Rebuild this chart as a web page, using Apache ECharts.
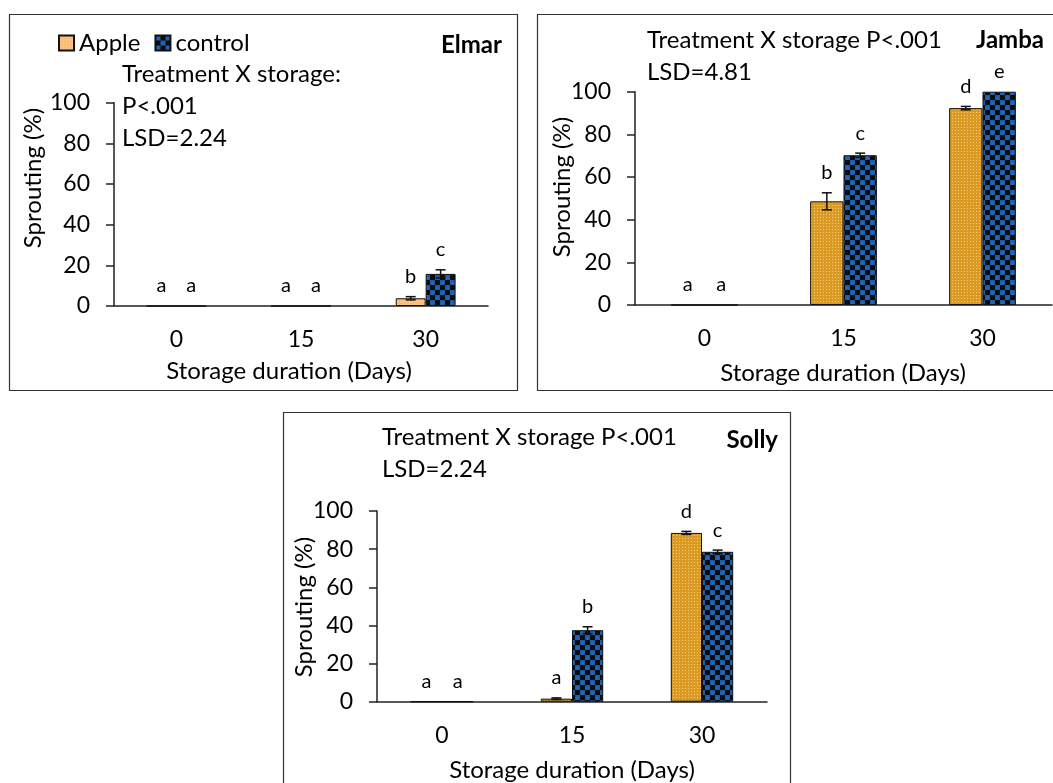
<!DOCTYPE html>
<html>
<head>
<meta charset="utf-8">
<script src="https://cdn.jsdelivr.net/npm/echarts@6/dist/echarts.min.js"></script>
<style>
  html, body { margin: 0; background: #fff; }
  #chart { width: 1053px; height: 783px; }
</style>
</head>
<body>
<div id="chart"></div>
<script>
  var categories = ['0', '15', '30'];
  var yMin = 0, yMax = 100, yStep = 20;

  // Elmar
  var elmarApple = [0, 0, 3.8];
  var elmarAppleErr = [0, 0, 0.8];
  var elmarAppleLetters = ['a', 'a', 'b'];
  var elmarControl = [0, 0, 15.8];
  var elmarControlErr = [0, 0, 2];
  var elmarControlLetters = ['a', 'a', 'c'];

  // Jamba
  var jambaApple = [0, 48.6, 92.3];
  var jambaAppleErr = [0, 4, 0.8];
  var jambaAppleLetters = ['a', 'b', 'd'];
  var jambaControl = [0, 70.2, 100];
  var jambaControlErr = [0, 1, 0];
  var jambaControlLetters = ['a', 'c', 'e'];

  // Solly
  var sollyApple = [0, 1.6, 88.5];
  var sollyAppleErr = [0, 0.4, 0.8];
  var sollyAppleLetters = ['a', 'a', 'd'];
  var sollyControl = [0, 37.5, 78.6];
  var sollyControlErr = [0, 1.8, 0.9];
  var sollyControlLetters = ['a', 'b', 'c'];

  var FONT = 'Lato';

  function dotPattern(base, dot) {
    var c = document.createElement('canvas');
    c.width = 3; c.height = 3;
    var ctx = c.getContext('2d');
    ctx.fillStyle = base;
    ctx.fillRect(0, 0, 3, 3);
    ctx.fillStyle = dot;
    ctx.fillRect(1, 1, 1, 1);
    return { image: c, repeat: 'repeat' };
  }

  function checkPattern() {
    var c = document.createElement('canvas');
    c.width = 10; c.height = 10;
    var ctx = c.getContext('2d');
    ctx.fillStyle = '#1d5cab';
    ctx.fillRect(0, 0, 10, 10);
    ctx.fillStyle = '#0d0d0d';
    ctx.fillRect(5, 0, 5, 5);
    ctx.fillRect(0, 5, 5, 5);
    ctx.fillStyle = '#2466b8';
    ctx.beginPath(); ctx.arc(2.5, 3, 1.8, 0, Math.PI * 2); ctx.fill();
    ctx.beginPath(); ctx.arc(7.5, 8, 1.8, 0, Math.PI * 2); ctx.fill();
    return { image: c, repeat: 'repeat' };
  }

  var appleLight = dotPattern('#f8bd78', '#fcd8a8');
  var appleDark = dotPattern('#db9a24', '#f4cb78');
  var control = checkPattern();

  var chart = echarts.init(document.getElementById('chart'));

  function barSeries(g, name, values, color) {
    return {
      name: name, type: 'bar', xAxisIndex: g, yAxisIndex: g,
      data: values, barWidth: '24%', barGap: '0%',
      itemStyle: { color: color, borderColor: '#111', borderWidth: 1 }
    };
  }

  // error bars and significance letters above each bar
  function errSeries(g, values, errs, letters, side) {
    return {
      type: 'custom', xAxisIndex: g, yAxisIndex: g, z: 10, silent: true,
      data: values.map(function (v, i) { return [i, v, errs[i]]; }),
      renderItem: function (params, api) {
        var i = api.value(0), m = api.value(1), e = api.value(2);
        var band = api.size([1, 0])[0];
        var cx = api.coord([i, 0])[0] + side * band * 0.12;
        var top = api.coord([i, m + e])[1];
        var bot = api.coord([i, m - e])[1];
        var st = { stroke: '#111', lineWidth: 1.5 };
        var kids = [];
        if (e > 0) {
          kids.push({ type: 'line', shape: { x1: cx, y1: top, x2: cx, y2: bot }, style: st });
          kids.push({ type: 'line', shape: { x1: cx - 5, y1: top, x2: cx + 5, y2: top }, style: st });
          kids.push({ type: 'line', shape: { x1: cx - 5, y1: bot, x2: cx + 5, y2: bot }, style: st });
        }
        kids.push({
          type: 'text',
          style: { text: letters[params.dataIndex], x: cx, y: top - 20, align: 'center',
                   verticalAlign: 'middle', font: '20px ' + FONT, fill: '#000' }
        });
        return { type: 'group', children: kids };
      }
    };
  }

  function xAxis(g) {
    return {
      type: 'category', gridIndex: g, data: categories,
      axisLine: { lineStyle: { color: '#222', width: 1.5 } },
      axisTick: { length: 8, lineStyle: { color: '#222', width: 1.5 } },
      axisLabel: { fontFamily: FONT, fontSize: 23, color: '#000', margin: 22 }
    };
  }

  function yAxis(g) {
    return {
      type: 'value', gridIndex: g, min: yMin, max: yMax, interval: yStep,
      splitLine: { show: false },
      axisLine: { show: true, lineStyle: { color: '#222', width: 1.5 } },
      axisTick: { show: true, length: 8, lineStyle: { color: '#222', width: 1.5 } },
      axisLabel: { fontFamily: FONT, fontSize: 23, color: '#000', margin: 24 }
    };
  }

  function txt(x, y, s, opts) {
    opts = opts || {};
    return {
      type: 'text', x: x, y: y, rotation: opts.rot || 0, silent: true,
      style: { text: s, align: opts.align || 'left', verticalAlign: 'middle',
               font: (opts.bold ? 'bold ' : '') + '24px ' + FONT, fill: '#000' }
    };
  }

  function box(x, y, w, h) {
    return { type: 'rect', silent: true, shape: { x: x, y: y, width: w, height: h },
             style: { fill: 'none', stroke: '#333', lineWidth: 1.2 } };
  }

  var option = {
    animation: false,
    legend: {
      data: ['Apple', 'control'], icon: 'rect',
      left: 53, top: 26, itemWidth: 15, itemHeight: 15, itemGap: 14,
      textStyle: { fontFamily: FONT, fontSize: 24, color: '#000' }
    },
    grid: [
      { left: 114, top: 102.7, width: 374, height: 203.3 },
      { left: 635, top: 91.7, width: 417, height: 213.3 },
      { left: 377, top: 511, width: 390, height: 190.7 }
    ],
    xAxis: [xAxis(0), xAxis(1), xAxis(2)],
    yAxis: [yAxis(0), yAxis(1), yAxis(2)],
    series: [
      barSeries(0, 'Apple', elmarApple, appleLight),
      barSeries(0, 'control', elmarControl, control),
      barSeries(1, 'Apple', jambaApple, appleDark),
      barSeries(1, 'control', jambaControl, control),
      barSeries(2, 'Apple', sollyApple, appleDark),
      barSeries(2, 'control', sollyControl, control),
      errSeries(0, elmarApple, elmarAppleErr, elmarAppleLetters, -1),
      errSeries(0, elmarControl, elmarControlErr, elmarControlLetters, 1),
      errSeries(1, jambaApple, jambaAppleErr, jambaAppleLetters, -1),
      errSeries(1, jambaControl, jambaControlErr, jambaControlLetters, 1),
      errSeries(2, sollyApple, sollyAppleErr, sollyAppleLetters, -1),
      errSeries(2, sollyControl, sollyControlErr, sollyControlLetters, 1)
    ],
    graphic: [
      box(9.5, 14.5, 508, 376),
      box(537.5, 14.5, 530, 376),
      box(283.5, 412.5, 507, 400),
      // Elmar
      txt(122, 74, 'Treatment X storage:'),
      txt(122, 106, 'P<.001'),
      txt(122, 138, 'LSD=2.24'),
      txt(502, 45, 'Elmar', { bold: true, align: 'right' }),
      txt(33, 178, 'Sprouting (%)', { rot: Math.PI / 2, align: 'center' }),
      txt(289, 371, 'Storage duration (Days)', { align: 'center' }),
      // Jamba
      txt(647, 40, 'Treatment X storage P<.001'),
      txt(647, 72, 'LSD=4.81'),
      txt(1044, 40, 'Jamba', { bold: true, align: 'right' }),
      txt(562, 187, 'Sprouting (%)', { rot: Math.PI / 2, align: 'center' }),
      txt(843, 373, 'Storage duration (Days)', { align: 'center' }),
      // Solly
      txt(382, 437, 'Treatment X storage P<.001'),
      txt(382, 469, 'LSD=2.24'),
      txt(778, 440, 'Solly', { bold: true, align: 'right' }),
      txt(304, 607, 'Sprouting (%)', { rot: Math.PI / 2, align: 'center' }),
      txt(572, 770, 'Storage duration (Days)', { align: 'center' })
    ]
  };

  chart.setOption(option);
</script>
</body>
</html>
